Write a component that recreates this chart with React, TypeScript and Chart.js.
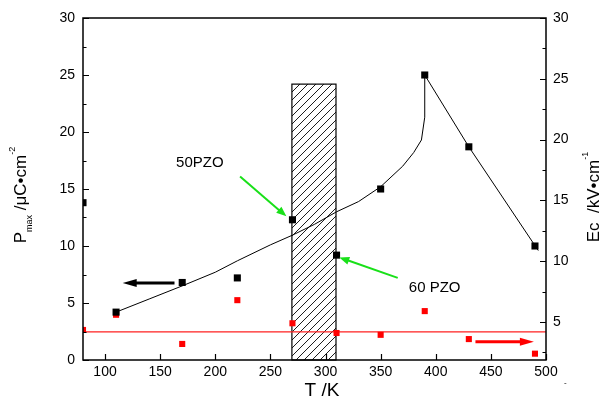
import React, { useEffect, useRef } from 'react';
import { Chart, registerables } from 'chart.js';

Chart.register(...registerables);

// ---- data ----
const tempK = [80, 110, 170, 220, 270, 310, 350, 390, 430, 490];
const pmaxValues = [13.8, 4.2, 6.8, 7.2, 12.3, 9.2, 15.0, 25.0, 18.7, 10.0];
const ecValues = [4.35, 5.6, 3.2, 6.8, 4.9, 4.1, 3.95, 5.9, 3.6, 2.4];

const fitT = [110, 140, 170, 200, 220, 250, 270, 290, 310, 330, 350, 370, 380, 387, 390, 390, 430, 493];
const fitPmax = [4.2, 5.35, 6.5, 7.7, 8.7, 10.1, 10.95, 11.9, 13.0, 13.9, 15.2, 17.0, 18.2, 19.3, 21.3, 25.0, 18.7, 9.6];

const ecLevelT = [80, 500];
const ecLevel = [4.2, 4.2];

const xTicks = [100, 150, 200, 250, 300, 350, 400, 450, 500];
const leftTicks = [0, 5, 10, 15, 20, 25, 30];
const rightTicks = [5, 10, 15, 20, 25, 30];

const hatchRange = [269.5, 309.5];
const hatchHeight = 24.2;

// annotations (data units, left axis)
const label50 = { text: '50PZO', t: 186, p: 17.3 };
const label60 = { text: '60 PZO', t: 399, p: 6.3 };
const arrowBlack = { from: [163, 6.75], to: [116, 6.75] };
const arrowRed = { from: [436, 1.6], to: [489, 1.6] };
const arrowGreen50 = { from: [222.5, 16.1], to: [264.5, 12.6] };
const arrowGreen60 = { from: [365.5, 7.2], to: [312.5, 9.0] };

const FONT = '"Liberation Sans", Arial, sans-serif';
const GREEN = '#19e019';

function drawArrow(ctx: CanvasRenderingContext2D, x1: number, y1: number, x2: number, y2: number, color: string, lw: number, headLen: number, headHalf: number) {
  const ang = Math.atan2(y2 - y1, x2 - x1);
  const bx = x2 - headLen * Math.cos(ang);
  const by = y2 - headLen * Math.sin(ang);
  ctx.save();
  ctx.strokeStyle = color;
  ctx.fillStyle = color;
  ctx.lineWidth = lw;
  ctx.beginPath();
  ctx.moveTo(x1, y1);
  ctx.lineTo(bx + Math.cos(ang) * 2, by + Math.sin(ang) * 2);
  ctx.stroke();
  ctx.beginPath();
  ctx.moveTo(x2, y2);
  ctx.lineTo(bx + headHalf * Math.sin(ang), by - headHalf * Math.cos(ang));
  ctx.lineTo(bx - headHalf * Math.sin(ang), by + headHalf * Math.cos(ang));
  ctx.closePath();
  ctx.fill();
  ctx.restore();
}

type Part = { text: string; size: number; dy: number };

function drawRich(ctx: CanvasRenderingContext2D, parts: Part[], cx: number, cy: number, rot: number) {
  ctx.save();
  ctx.translate(cx, cy);
  ctx.rotate(rot);
  ctx.fillStyle = '#000';
  ctx.textBaseline = 'alphabetic';
  ctx.textAlign = 'left';
  let total = 0;
  const widths = parts.map((p) => {
    ctx.font = `${p.size}px ${FONT}`;
    const w = ctx.measureText(p.text).width;
    total += w;
    return w;
  });
  let x = -total / 2;
  parts.forEach((p, i) => {
    ctx.font = `${p.size}px ${FONT}`;
    ctx.fillText(p.text, x, p.dy);
    x += widths[i];
  });
  ctx.restore();
}

const decorPlugin = {
  id: 'decor',
  beforeDatasetsDraw(chart: any) {
    const ctx = chart.ctx as CanvasRenderingContext2D;
    const xs = chart.scales.x;
    const ys = chart.scales.y;
    const x1 = xs.getPixelForValue(hatchRange[0]);
    const x2 = xs.getPixelForValue(hatchRange[1]);
    const y1 = ys.getPixelForValue(hatchHeight);
    const y2 = ys.getPixelForValue(0);
    ctx.save();
    ctx.beginPath();
    ctx.rect(x1, y1, x2 - x1, y2 - y1);
    ctx.clip();
    ctx.strokeStyle = '#000';
    ctx.lineWidth = 0.9;
    ctx.beginPath();
    const h = y2 - y1;
    for (let s = x1 - h; s < x2 + 10; s += 8) {
      ctx.moveTo(s, y2);
      ctx.lineTo(s + h, y1);
    }
    ctx.stroke();
    ctx.restore();
    ctx.save();
    ctx.strokeStyle = '#000';
    ctx.lineWidth = 1.2;
    ctx.strokeRect(x1, y1, x2 - x1, y2 - y1);
    ctx.restore();
  },
  afterDraw(chart: any) {
    const ctx = chart.ctx as CanvasRenderingContext2D;
    const a = chart.chartArea;
    const xs = chart.scales.x;
    const ys = chart.scales.y;
    const y2s = chart.scales.y2;
    ctx.save();
    // frame
    ctx.strokeStyle = '#000';
    ctx.lineWidth = 1.5;
    ctx.strokeRect(a.left, a.top, a.right - a.left, a.bottom - a.top);
    // ticks
    ctx.lineWidth = 1.2;
    ctx.beginPath();
    for (let v = 0; v <= 30; v += 2.5) {
      const y = Math.round(ys.getPixelForValue(v)) + 0.5;
      const len = v % 5 === 0 ? 6 : 3.5;
      ctx.moveTo(a.left, y);
      ctx.lineTo(a.left + len, y);
    }
    for (let v = 2.5; v <= 30; v += 2.5) {
      const y = Math.round(y2s.getPixelForValue(v)) + 0.5;
      const len = v % 5 === 0 ? 6 : 3.5;
      ctx.moveTo(a.right, y);
      ctx.lineTo(a.right - len, y);
    }
    xTicks.forEach((v) => {
      const x = Math.round(xs.getPixelForValue(v)) + 0.5;
      ctx.moveTo(x, a.bottom);
      ctx.lineTo(x, a.bottom - 6);
    });
    ctx.stroke();
    ctx.restore();

    // arrows
    const P = (pt: number[]) => [xs.getPixelForValue(pt[0]), ys.getPixelForValue(pt[1])];
    let p1 = P(arrowBlack.from), p2 = P(arrowBlack.to);
    drawArrow(ctx, p1[0], p1[1], p2[0], p2[1], '#000', 3, 14, 4);
    p1 = P(arrowRed.from); p2 = P(arrowRed.to);
    drawArrow(ctx, p1[0], p1[1], p2[0], p2[1], '#ff0000', 3, 14, 4);
    p1 = P(arrowGreen50.from); p2 = P(arrowGreen50.to);
    drawArrow(ctx, p1[0], p1[1], p2[0], p2[1], GREEN, 2, 10, 4);
    p1 = P(arrowGreen60.from); p2 = P(arrowGreen60.to);
    drawArrow(ctx, p1[0], p1[1], p2[0], p2[1], GREEN, 2, 10, 4);

    // labels
    ctx.save();
    ctx.fillStyle = '#000';
    ctx.font = `15px ${FONT}`;
    ctx.textAlign = 'center';
    ctx.textBaseline = 'middle';
    ctx.fillText(label50.text, xs.getPixelForValue(label50.t), ys.getPixelForValue(label50.p));
    ctx.fillText(label60.text, xs.getPixelForValue(label60.t), ys.getPixelForValue(label60.p));
    ctx.restore();

    // axis titles
    drawRich(ctx, [
      { text: 'P', size: 17, dy: 0 },
      { text: 'max', size: 9, dy: 6 },
      { text: ' /\u03bcC\u2022cm', size: 17, dy: 0 },
      { text: '-2', size: 9, dy: -11 },
    ], 26, 195, -Math.PI / 2);
    drawRich(ctx, [
      { text: 'Ec  /kV\u2022cm', size: 17, dy: 0 },
      { text: '-1', size: 9, dy: -11 },
    ], 599, 197, -Math.PI / 2);
    drawRich(ctx, [{ text: 'T /K', size: 19, dy: 0 }], 322, 396, 0);
    ctx.save();
    ctx.fillStyle = '#000';
    ctx.font = `8px ${FONT}`;
    ctx.fillText('-', 564, 385);
    ctx.restore();
  },
};

export default function App() {
  const ref = useRef<HTMLCanvasElement>(null);
  useEffect(() => {
    document.body.style.margin = '0';
    const canvas = ref.current!;
    const fixedTicks = (vals: number[]) => (scale: any) => {
      scale.ticks = vals.map((v) => ({ value: v }));
    };
    const chart = new Chart(canvas, {
      type: 'scatter',
      data: {
        datasets: [
          {
            label: 'Pmax',
            data: tempK.map((t, i) => ({ x: t, y: pmaxValues[i] })),
            yAxisID: 'y',
            pointStyle: 'rect',
            pointRadius: 5,
            backgroundColor: '#000',
            borderColor: '#000',
            borderWidth: 0,
            showLine: false,
          },
          {
            label: 'Ec',
            data: tempK.map((t, i) => ({ x: t, y: ecValues[i] })),
            yAxisID: 'y2',
            pointStyle: 'rect',
            pointRadius: 4.3,
            backgroundColor: '#ff0000',
            borderColor: '#ff0000',
            borderWidth: 0,
            showLine: false,
          },
          {
            label: 'fit',
            data: fitT.map((t, i) => ({ x: t, y: fitPmax[i] })),
            yAxisID: 'y',
            showLine: true,
            pointRadius: 0,
            borderColor: '#000',
            borderWidth: 1,
            tension: 0,
          },
          {
            label: 'level',
            data: ecLevelT.map((t, i) => ({ x: t, y: ecLevel[i] })),
            yAxisID: 'y2',
            showLine: true,
            pointRadius: 0,
            borderColor: '#ff2020',
            borderWidth: 1.2,
          },
        ],
      },
      options: {
        animation: false,
        responsive: false,
        devicePixelRatio: 1,
        layout: { padding: { top: 18, left: 0, right: 0, bottom: 0 } },
        plugins: { legend: { display: false }, tooltip: { enabled: false } },
        scales: {
          x: {
            type: 'linear',
            min: 80,
            max: 500,
            grid: { display: false, drawTicks: false },
            border: { display: false },
            ticks: { color: '#000', font: { size: 14, family: FONT }, padding: 4 },
            afterBuildTicks: fixedTicks(xTicks),
            afterFit: (s: any) => { s.height = 38; },
          },
          y: {
            type: 'linear',
            position: 'left',
            min: 0,
            max: 30,
            grid: { display: false, drawTicks: false },
            border: { display: false },
            ticks: { color: '#000', font: { size: 14, family: FONT }, padding: 8 },
            afterBuildTicks: fixedTicks(leftTicks),
            afterFit: (s: any) => { s.width = 83; },
          },
          y2: {
            type: 'linear',
            position: 'right',
            min: 1.88,
            max: 30,
            grid: { display: false, drawTicks: false },
            border: { display: false },
            ticks: { color: '#000', font: { size: 14, family: FONT }, padding: 7 },
            afterBuildTicks: fixedTicks(rightTicks),
            afterFit: (s: any) => { s.width = 54; },
          },
        },
      },
      plugins: [decorPlugin],
    } as any);
    return () => chart.destroy();
  }, []);
  return (
    <div style={{ position: 'fixed', left: 0, top: 0, width: 600, height: 398, background: '#fff' }}>
      <canvas ref={ref} width={600} height={398} style={{ display: 'block' }} />
    </div>
  );
}
